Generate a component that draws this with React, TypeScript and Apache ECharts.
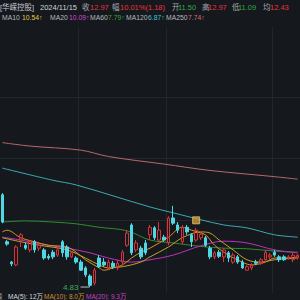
import React, { useEffect, useRef } from "react";
import * as echarts from "echarts";

// Trading days shown (mid-May to early Aug 2024)
const dates = [
  "05-09", "05-10", "05-13", "05-14", "05-15", "05-16", "05-17", "05-20", "05-21", "05-22",
  "05-23", "05-24", "05-27", "05-28", "05-29", "05-30", "05-31",
  "06-03", "06-04", "06-05", "06-06", "06-07", "06-11", "06-12", "06-13", "06-14", "06-17",
  "06-18", "06-19", "06-20", "06-21", "06-24", "06-25", "06-26", "06-27", "06-28",
  "07-01", "07-02", "07-03", "07-04", "07-05", "07-08", "07-09", "07-10", "07-11", "07-12",
  "07-15", "07-16", "07-17", "07-18", "07-19", "07-22", "07-23", "07-24", "07-25", "07-26",
  "07-29", "07-30", "07-31",
  "08-01", "08-02", "08-05", "08-06", "08-07", "08-08",
];
const monthStarts = ["06-03", "07-01", "08-01"];

// [open, close, low, high]
const candles = [
  [6.42, 5.95, 5.93, 6.45], [5.61, 5.57, 5.54, 5.64], [5.26, 5.23, 5.19, 5.28], [5.21, 5.52, 5.19, 5.55],
  [5.64, 5.73, 5.52, 5.76], [5.55, 5.50, 5.47, 5.59], [5.47, 5.61, 5.43, 5.64], [5.61, 5.47, 5.42, 5.64],
  [5.50, 5.55, 5.45, 5.59], [5.47, 5.33, 5.30, 5.50], [5.36, 5.33, 5.30, 5.40], [5.43, 5.35, 5.31, 5.47],
  [5.38, 5.47, 5.35, 5.54], [5.61, 5.42, 5.35, 5.64], [5.52, 5.35, 5.30, 5.55], [5.35, 5.42, 5.33, 5.45],
  [5.33, 5.26, 5.23, 5.36], [5.26, 5.12, 5.11, 5.30], [5.16, 5.04, 5.00, 5.19], [5.02, 4.86, 4.83, 5.05],
  [4.90, 5.12, 4.86, 5.16], [5.33, 5.18, 5.16, 5.38], [5.26, 5.21, 5.18, 5.33], [5.16, 5.26, 5.12, 5.30],
  [5.24, 5.18, 5.14, 5.28], [5.16, 5.24, 5.12, 5.30], [5.26, 5.43, 5.21, 5.47], [5.55, 5.76, 5.52, 5.81],
  [5.90, 5.42, 5.38, 5.93], [5.47, 5.59, 5.43, 5.64], [5.50, 5.35, 5.31, 5.54], [5.59, 5.42, 5.38, 5.64],
  [5.73, 5.86, 5.64, 5.90], [5.85, 5.68, 5.64, 5.88], [5.64, 5.81, 5.61, 5.95], [5.69, 5.64, 5.61, 5.73],
  [5.59, 6.02, 5.55, 6.05], [6.02, 5.93, 5.90, 6.23], [5.90, 5.81, 5.76, 5.95], [5.61, 5.86, 5.57, 5.90],
  [5.86, 5.78, 5.73, 5.90], [5.73, 5.61, 5.52, 5.76], [5.64, 5.81, 5.61, 5.85], [5.68, 5.74, 5.64, 5.78],
  [5.68, 5.55, 5.52, 5.71], [5.50, 5.35, 5.31, 5.54], [5.35, 5.42, 5.31, 5.45], [5.43, 5.36, 5.33, 5.47],
  [5.35, 5.47, 5.26, 5.50], [5.42, 5.33, 5.26, 5.45], [5.26, 5.38, 5.23, 5.42], [5.35, 5.26, 5.23, 5.38],
  [5.26, 5.16, 5.14, 5.30], [5.12, 5.18, 5.11, 5.21], [5.16, 5.21, 5.12, 5.24], [5.26, 5.24, 5.21, 5.30],
  [5.24, 5.30, 5.21, 5.33], [5.30, 5.43, 5.26, 5.47], [5.35, 5.38, 5.31, 5.42], [5.43, 5.38, 5.35, 5.47],
  [5.35, 5.30, 5.26, 5.38], [5.35, 5.30, 5.28, 5.38], [5.33, 5.35, 5.30, 5.38], [5.30, 5.38, 5.26, 5.42],
  [5.33, 5.38, 5.30, 5.40],
];

// Moving averages: [dayIndex, price]
const ma5 = [
  [0, 5.78], [1, 5.81], [4, 5.68], [7, 5.61], [10, 5.55], [14, 5.52], [16, 5.43], [18, 5.30],
  [21, 5.16], [22, 5.12], [24, 5.16], [26, 5.21], [28, 5.33], [30, 5.43], [32, 5.50], [36, 5.69],
  [39, 5.86], [41, 5.81], [44, 5.73], [46, 5.55], [49, 5.38], [52, 5.26], [54, 5.21], [57, 5.26],
  [59, 5.33], [62, 5.33], [64, 5.35],
];
const ma10 = [
  [0, 5.68], [4, 5.61], [8, 5.55], [14, 5.47], [18, 5.33], [21, 5.21], [23, 5.16], [26, 5.18],
  [30, 5.26], [32, 5.35], [36, 5.52], [39, 5.68], [43, 5.78], [45, 5.76], [47, 5.64], [50, 5.47],
  [53, 5.30], [56, 5.26], [59, 5.30], [64, 5.33],
];
const ma20 = [
  [0, 5.69], [4, 5.64], [10, 5.55], [14, 5.50], [19, 5.42], [23, 5.33], [28, 5.26], [32, 5.30],
  [37, 5.38], [43, 5.54], [48, 5.62], [53, 5.59], [59, 5.47], [64, 5.42],
];
const ma60 = [
  [0, 5.95], [5, 5.97], [11, 5.95], [16, 5.92], [21, 5.86], [27, 5.80], [32, 5.64], [37, 5.59],
  [43, 5.53], [48, 5.50], [53, 5.49], [59, 5.45], [64, 5.43],
];
const ma120 = [
  [0, 6.88], [11, 6.67], [16, 6.59], [32, 6.21], [37, 6.11], [43, 5.99], [48, 5.90], [53, 5.85],
  [59, 5.73], [64, 5.69],
];
const ma250 = [
  [0, 7.32], [6, 7.26], [17, 7.19], [23, 7.08], [35, 6.95], [45, 6.84], [58, 6.74], [64, 6.69],
];
const eventMarks = [[42, 5.98]];

const headerRow1 = [
  { t: "[华嵘控股]", x: 0, c: "#c4c8ce" },
  { t: "2024/11/15", x: 40, c: "#d2d6dc" },
  { t: "收", x: 82, c: "#a4a9b0" },
  { t: "12.97", x: 90, c: "#e8363e" },
  { t: "幅", x: 112, c: "#a4a9b0" },
  { t: "10.01%(1.18)", x: 120, c: "#e8363e" },
  { t: "开", x: 172, c: "#a4a9b0" },
  { t: "11.50", x: 178, c: "#2fa84a" },
  { t: "高", x: 202, c: "#a4a9b0" },
  { t: "12.97", x: 208, c: "#e8363e" },
  { t: "低", x: 232, c: "#a4a9b0" },
  { t: "11.09", x: 238, c: "#2fa84a" },
  { t: "均", x: 263, c: "#a4a9b0" },
  { t: "12.43", x: 270, c: "#e8363e" },
];
const headerRow2 = [
  { t: "MA10", x: 2, c: "#b4b8be" },
  { t: "10.54↑", x: 22, c: "#e2cc48" },
  { t: "MA20", x: 50, c: "#b4b8be" },
  { t: "10.09↑", x: 69, c: "#d24ad2" },
  { t: "MA60", x: 90, c: "#b4b8be" },
  { t: "7.79↑", x: 108, c: "#3aa63a" },
  { t: "MA120", x: 126, c: "#b4b8be" },
  { t: "6.87↑", x: 148, c: "#44c6d0" },
  { t: "MA250", x: 166, c: "#b4b8be" },
  { t: "7.74↑", x: 188, c: "#d87272" },
];
const volRow = [
  { t: "量", x: -4, c: "#b4b8be" },
  { t: "MA(5): 12万", x: 8, c: "#d4d8de" },
  { t: "MA(10): 8.0万", x: 44, c: "#d0922e" },
  { t: "MA(20): 9.3万", x: 86, c: "#c842c8" },
];

const BG = "#15181d";
const RED = "#d8323a";
const CYAN = "#4fd8e4";
const FONT = '"Liberation Sans", "Noto Sans CJK SC", sans-serif';

function textEls(row: { t: string; x: number; c: string }[], y: number, size: number) {
  return row.map((r) => ({
    type: "text",
    x: r.x,
    y,
    silent: true,
    style: { text: r.t, fill: r.c, fontSize: size, fontFamily: FONT, verticalAlign: "middle" },
  }));
}

function maSeries(name: string, data: number[][], color: string) {
  return {
    name,
    type: "line",
    data,
    xAxisIndex: 0,
    yAxisIndex: 0,
    symbol: "none",
    smooth: 0.35,
    connectNulls: true,
    lineStyle: { color, width: 1 },
    z: 3,
  };
}

export default function App() {
  const ref = useRef<HTMLDivElement>(null);
  useEffect(() => {
    if (!ref.current) return;
    const chart = echarts.init(ref.current, null, { renderer: "svg" });
    chart.setOption({
      animation: false,
      backgroundColor: BG,
      grid: [
        { left: -1.333, width: 303.333, top: 27, height: 266 },
        { left: 0, right: 0, top: 97, height: 123 },
      ],
      xAxis: [
        {
          type: "category",
          data: dates,
          gridIndex: 0,
          boundaryGap: true,
          axisLine: { show: false },
          axisTick: { show: false },
          axisLabel: { show: false },
          splitLine: {
            show: true,
            interval: (_i: number, v: string) => monthStarts.includes(v),
            lineStyle: { color: "#22262d", width: 1 },
          },
        },
        { type: "value", gridIndex: 1, min: 0, max: 1, show: false },
      ],
      yAxis: [
        { type: "value", gridIndex: 0, min: 4.727, max: 9.313, show: false },
        {
          type: "value",
          gridIndex: 1,
          min: 0,
          max: 2,
          interval: 1,
          axisLine: { show: false },
          axisTick: { show: false },
          axisLabel: { show: false },
          splitLine: { show: true, lineStyle: { color: "#22262d", width: 1 } },
        },
      ],
      series: [
        maSeries("MA250", ma250, "#b86868"),
        maSeries("MA120", ma120, "#3aaab4"),
        maSeries("MA60", ma60, "#2e8e2e"),
        maSeries("MA20", ma20, "#c030c0"),
        maSeries("MA10", ma10, "#c0a428"),
        maSeries("MA5", ma5, "#e0902a"),
        {
          type: "candlestick",
          data: candles,
          barWidth: 3,
          z: 4,
          itemStyle: {
            color: "transparent",
            color0: CYAN,
            borderColor: RED,
            borderColor0: CYAN,
            borderWidth: 1,
          },
          markPoint: {
            symbol: "rect",
            symbolSize: [9, 1],
            symbolOffset: [-5, 0],
            itemStyle: { color: "#b8bcc2" },
            label: {
              show: true,
              position: "left",
              distance: 2,
              color: "#3fae5a",
              fontSize: 8,
              fontFamily: FONT,
              formatter: (p: any) => Number(p.value).toFixed(2),
            },
            data: [{ type: "min", valueDim: "lowest" }],
          },
        },
        {
          type: "scatter",
          data: eventMarks,
          symbol: "rect",
          symbolSize: 7,
          z: 5,
          itemStyle: { color: "#c99a3c", borderColor: "#e8c46a", borderWidth: 1 },
        },
      ],
      graphic: [
        ...textEls(headerRow1, 7, 7.5),
        ...textEls(headerRow2, 17, 6.8),
        ...textEls(volRow, 296, 6.5),
      ],
    });
    return () => chart.dispose();
  }, []);
  return <div ref={ref} style={{ position: "fixed", left: 0, top: 0, width: 300, height: 300 }} />;
}
